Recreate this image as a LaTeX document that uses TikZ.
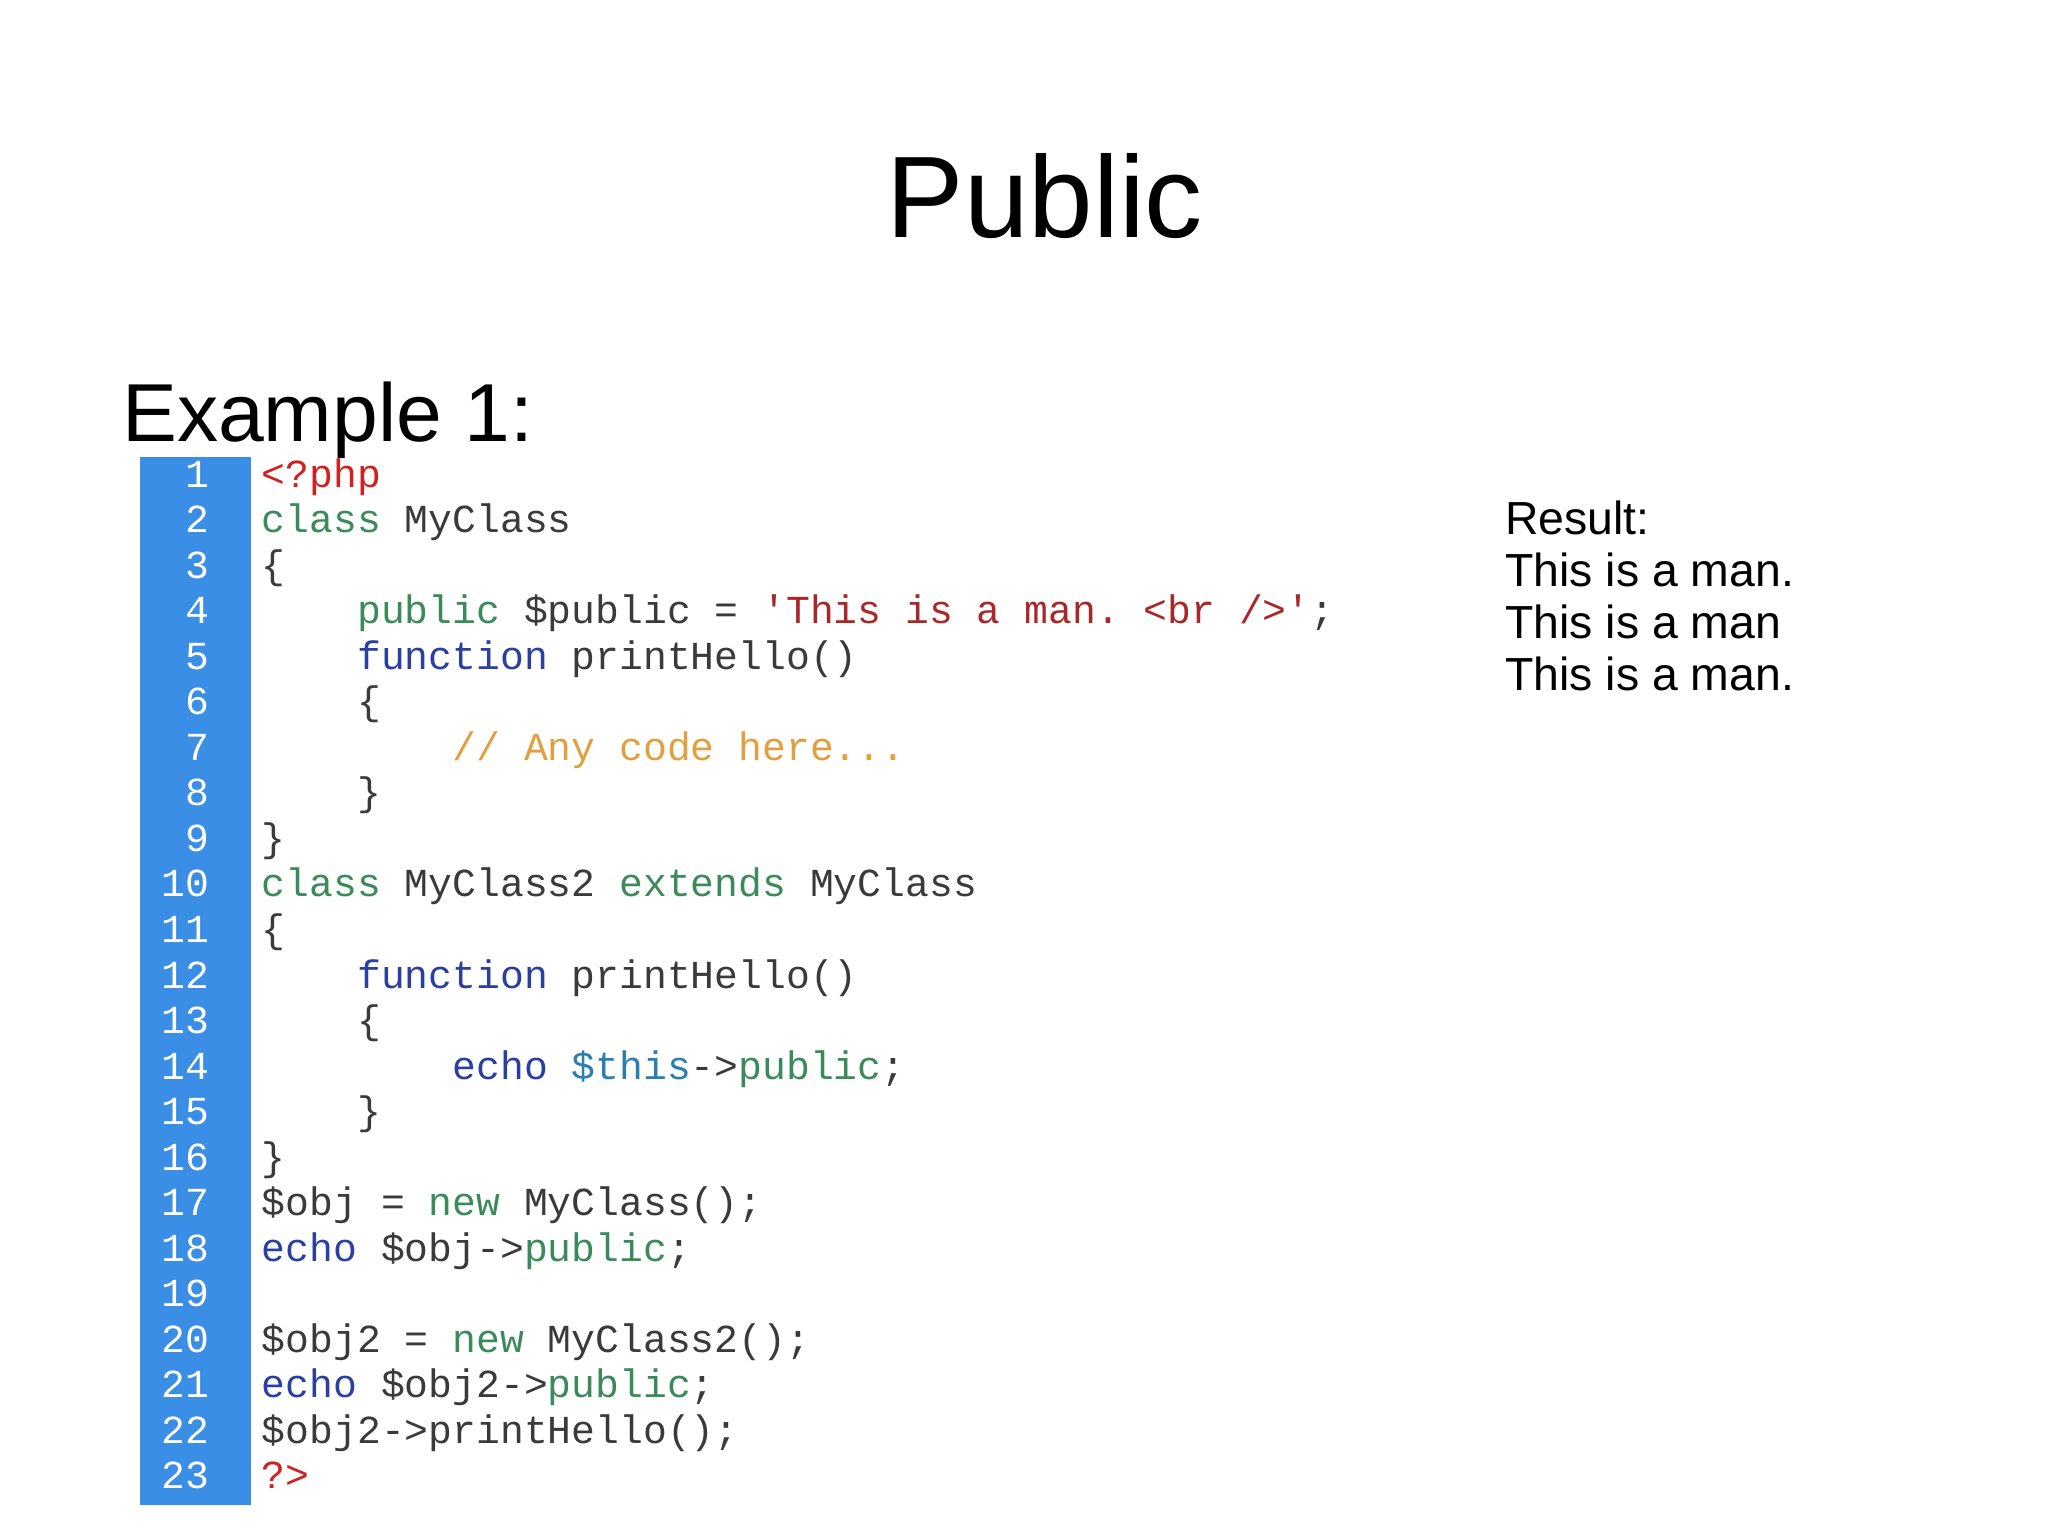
\documentclass[tikz,border=0pt]{standalone}
\usepackage{fontspec}
\setmainfont{Liberation Sans}
\setmonofont{Liberation Mono}
\definecolor{kw}{HTML}{3A8A5A}
\definecolor{fn}{HTML}{2A3FA0}
\definecolor{st}{HTML}{A8282A}
\definecolor{cm}{HTML}{E0A040}
\definecolor{vr}{HTML}{3A3A3A}
\definecolor{th}{HTML}{2A7FB0}
\definecolor{ph}{HTML}{D02020}
\definecolor{bar}{HTML}{3A8EE6}
\newcommand{\cc}[2]{\textcolor{#1}{#2}}
\begin{document}
\begin{tikzpicture}[x=0.01306cm,y=-0.01306cm,
  code/.style={anchor=base west,inner sep=0,font=\fontsize{11.3}{12}\ttfamily,text=vr},
  num/.style={anchor=base east,inner sep=0,font=\fontsize{11.3}{12}\ttfamily,text=white}]
\useasboundingbox (0,0) rectangle (1568,1176);
\node[anchor=base,inner sep=0,font=\fontsize{33}{36}\selectfont] (title) at (800,182) {Public};
\node[anchor=base west,inner sep=0,font=\fontsize{23.4}{28}\selectfont] (ex) at (93,338) {Example 1:};
\fill[bar] (107,350) rectangle (192,1152);
\def\L#1{{363+34.86*(#1-1)+10}}
\foreach \i in {1,...,23}{\node[num] (n\i) at (161,{363+34.86*(\i-1)+10}) {\i};}
\node[code] (c1) at (200,\L1) {\cc{ph}{<?php}};
\node[code] (c2) at (200,\L2) {\cc{kw}{class} MyClass};
\node[code] (c3) at (200,\L3) {\{};
\node[code] (c4) at (273,\L4) {\cc{kw}{public} \$public = \cc{st}{'This is a man. <br />'};};
\node[code] (c5) at (273,\L5) {\cc{fn}{function} printHello()};
\node[code] (c6) at (273,\L6) {\{};
\node[code] (c7) at (346,\L7) {\cc{cm}{// Any code here...}};
\node[code] (c8) at (273,\L8) {\}};
\node[code] (c9) at (200,\L9) {\}};
\node[code] (c10) at (200,\L{10}) {\cc{kw}{class} MyClass2 \cc{kw}{extends} MyClass};
\node[code] (c11) at (200,\L{11}) {\{};
\node[code] (c12) at (273,\L{12}) {\cc{fn}{function} printHello()};
\node[code] (c13) at (273,\L{13}) {\{};
\node[code] (c14) at (346,\L{14}) {\cc{fn}{echo} \cc{th}{\$this}->\cc{kw}{public};};
\node[code] (c15) at (273,\L{15}) {\}};
\node[code] (c16) at (200,\L{16}) {\}};
\node[code] (c17) at (200,\L{17}) {\$obj = \cc{kw}{new} MyClass();};
\node[code] (c18) at (200,\L{18}) {\cc{fn}{echo} \$obj->\cc{kw}{public};};
\node[code] (c20) at (200,\L{20}) {\$obj2 = \cc{kw}{new} MyClass2();};
\node[code] (c21) at (200,\L{21}) {\cc{fn}{echo} \$obj2->\cc{kw}{public};};
\node[code] (c22) at (200,\L{22}) {\$obj2->printHello();};
\node[code] (c23) at (200,\L{23}) {\cc{ph}{?>}};
\node[anchor=north west,inner sep=0,align=left,font=\fontsize{13.2}{14.8}\selectfont] (res) at (1152,383)
 {Result:\\This is a man.\\This is a man\\This is a man.};
\end{tikzpicture}
\end{document}
